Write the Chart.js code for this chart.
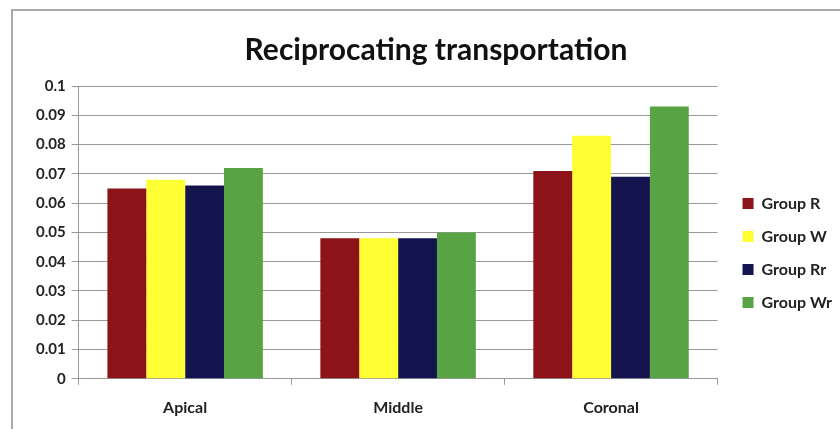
<!DOCTYPE html>
<html>
<head>
<meta charset="utf-8">
<script src="https://cdn.jsdelivr.net/npm/chart.js@4/dist/chart.umd.min.js"></script>
<style>
  html, body { margin: 0; padding: 0; background: #fff; }
  #wrap { position: relative; width: 840px; height: 429px; overflow: hidden; }
  #frame { position: absolute; left: 11px; top: 9px; width: 840px; height: 440px; border: 2px solid #a8a8a8; box-sizing: border-box; pointer-events: none; }
  canvas { position: absolute; left: 0; top: 0; }
</style>
</head>
<body>
<div id="wrap">
  <canvas id="c" width="840" height="429"></canvas>
  <div id="frame"></div>
</div>
<script>
const categories = ["Apical", "Middle", "Coronal"];
const groupR  = [0.065, 0.048, 0.071];
const groupW  = [0.068, 0.048, 0.083];
const groupRr = [0.066, 0.048, 0.069];
const groupWr = [0.072, 0.050, 0.093];
const seriesNames = ["Group R", "Group W", "Group Rr", "Group Wr"];
const seriesColors = ["#8C1419", "#FFFF33", "#14144E", "#58A444"];
const yMin = 0, yMax = 0.1, yStep = 0.01;

const seriesData = [groupR, groupW, groupRr, groupWr];
const datasets = seriesNames.map((n, i) => ({
  label: n,
  data: seriesData[i],
  backgroundColor: seriesColors[i],
  borderWidth: 0,
  barPercentage: 1.0,
  categoryPercentage: 0.73
}));

new Chart(document.getElementById('c'), {
  type: 'bar',
  data: { labels: categories, datasets },
  options: {
    responsive: false,
    animation: false,
    layout: { padding: { left: 30, right: -2, top: 14, bottom: -1 } },
    plugins: {
      title: {
        display: true,
        text: 'Reciprocating transportation',
        font: { family: 'Lato', size: 30, weight: 'bold' },
        color: '#111',
        padding: { top: 18, bottom: 18 }
      },
      legend: {
        position: 'right',
        title: { display: true, text: ' ', font: { size: 10 }, padding: { top: 25, bottom: 25 } },
        labels: {
          boxWidth: 11, boxHeight: 11,
          font: { family: 'Lato', size: 16, weight: 'bold' },
          color: '#222',
          padding: 17
        }
      },
      tooltip: { enabled: false }
    },
    scales: {
      x: {
        grid: { display: true, drawOnChartArea: false, offset: true, tickLength: 6, color: '#999' },
        border: { color: '#999', width: 1 },
        ticks: { font: { family: 'Lato', size: 16, weight: 'bold' }, color: '#222', padding: 13 }
      },
      y: {
        min: yMin, max: yMax,
        grid: { color: '#999', tickLength: 7, lineWidth: 1 },
        border: { color: '#999', width: 1 },
        ticks: {
          stepSize: yStep,
          font: { family: 'Lato', size: 15, weight: 'bold' }, color: '#222', padding: 6,
          callback: (v) => String(Math.round(v * 100) / 100)
        }
      },
      gap: {
        position: 'right',
        display: true,
        grid: { display: false },
        border: { display: false },
        ticks: { display: false },
        afterFit: (s) => { s.width = 8; }
      }
    }
  }
});
</script>
</body>
</html>
